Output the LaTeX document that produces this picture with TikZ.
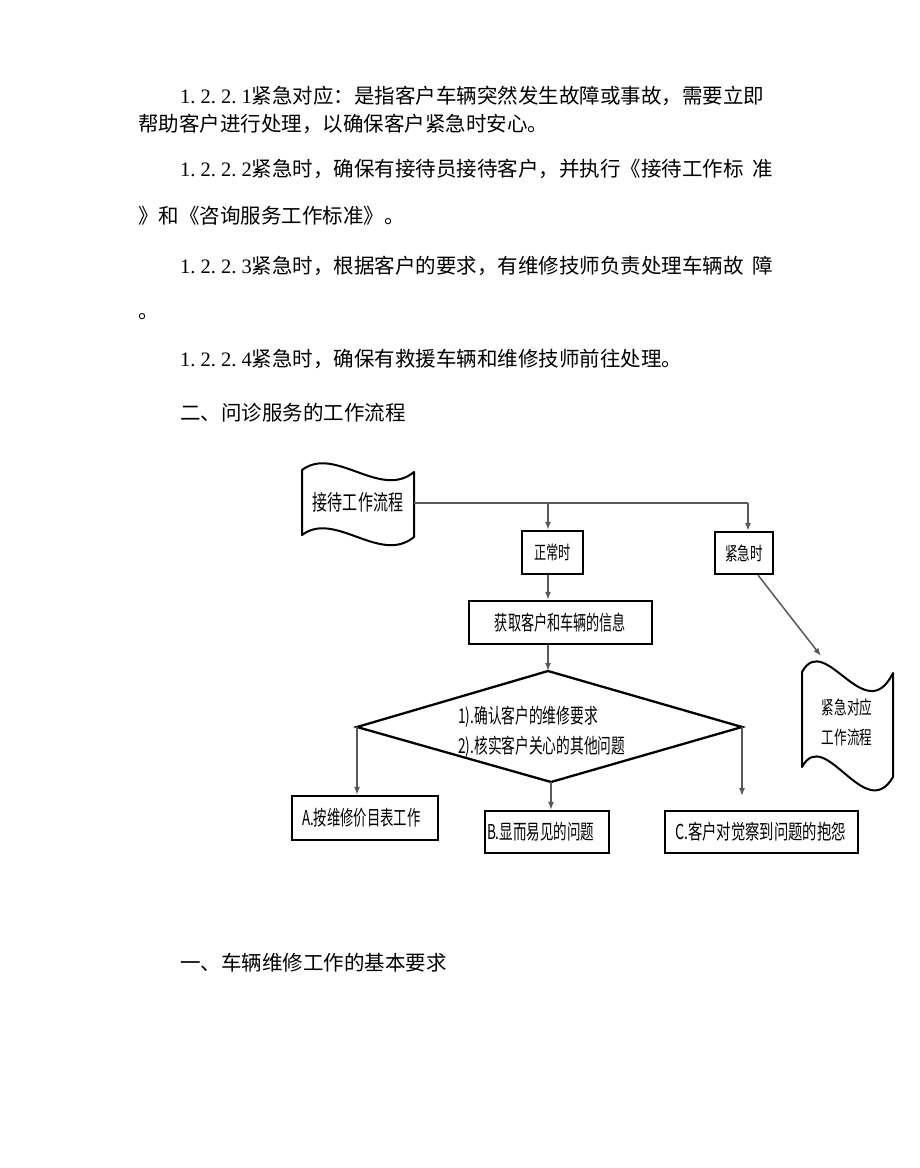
\documentclass[tikz,border=0pt]{standalone}
\usepackage{fontspec}
\setmainfont{Noto Sans CJK SC}
\newfontfamily\digfont{Liberation Serif}
\usetikzlibrary{arrows.meta,calc}
\newcommand\hwc[1]{\makebox[0.5em][c]{#1}}
\newcommand\hwl[1]{\makebox[0.5em][l]{#1}}
\newcommand\secno[4]{{\digfont\hwc{#1}\hwl{.}\hwc{#2}\hwl{.}\hwc{#3}\hwl{.}\hwc{#4}}}
\newcommand\dg[2][0.68]{\scalebox{#1}[1]{#2}}
\tikzset{
  body/.style={anchor=base west, inner sep=0pt, font=\fontsize{20.5}{24}\selectfont},
  box/.style={draw=black, line width=2.2pt, rectangle, inner sep=0pt, font=\fontsize{20.5}{24}\selectfont},
  lbl/.style={inner sep=0pt, font=\fontsize{20.5}{24}\selectfont},
  conn/.style={draw=black!65, line width=1.5pt},
  arr/.style={conn, -{Latex[length=8pt,width=6pt]}},
  docshape/.style={draw=black, line width=2pt, line join=round},
  dia/.style={draw=black, line width=2.3pt, line join=miter}
}
\begin{document}
\begin{tikzpicture}[x=1pt,y=-1pt]
\fill[white] (0,0) rectangle (920,1168);
\useasboundingbox (0,0) rectangle (920,1168);

% body text
\node[body] (p1) at (180,103) {\secno1221紧急对应：是指客户车辆突然发生故障或事故，需要立即};
\node[body] (p2) at (138,131.5) {帮助客户进行处理，以确保客户紧急时安心。};
\node[body] (p3) at (180,176) {\secno1222紧急时，确保有接待员接待客户，并执行《接待工作标\hspace{9pt}准};
\node[body] (p4) at (138,223) {》和《咨询服务工作标准》。};
\node[body] (p5) at (180,273) {\secno1223紧急时，根据客户的要求，有维修技师负责处理车辆故\hspace{9pt}障};
\node[body] (p6) at (138,318) {。};
\node[body] (p7) at (180,366) {\secno1224紧急时，确保有救援车辆和维修技师前往处理。};
\node[body] (h2) at (180,420) {二、问诊服务的工作流程};
\node[body] (h1) at (180,970) {一、车辆维修工作的基本要求};

% document shapes
\draw[docshape] (302,470) .. controls (335,445) and (380,500) .. (414,472) -- (414,537)
  .. controls (380,565) and (335,510) .. (302,535) -- cycle;
\node[lbl, font=\fontsize{21.5}{24}\selectfont] (d1) at (358,502) {\dg[0.70]{接待工作流程}};

\draw[docshape] (802,672) .. controls (825,630) and (865,730) .. (893,673) -- (893,777)
  .. controls (865,825) and (825,725) .. (802,767) -- cycle;
\node[lbl, align=center, font=\fontsize{18.5}{30}\selectfont] (d2) at (847,722) {\dg{紧急对应}\\\dg{工作流程}};

% boxes
\node[box, font=\fontsize{18.5}{22}\selectfont, minimum width=61pt, minimum height=43pt] (zc) at (552.5,552.5) {\dg[0.66]{正常时}};
\node[box, font=\fontsize{18.5}{22}\selectfont, minimum width=58pt, minimum height=42pt] (jj) at (744,553) {\dg[0.68]{紧急时}};
\node[box, minimum width=183pt, minimum height=43pt] (info) at (560.5,622.5) {\dg[0.64]{获取客户和车辆的信息}};
\node[box, minimum width=146pt, minimum height=44pt] (A) at (365,818) {\makebox[126pt][l]{\dg[0.65]{A.按维修价目表工作}}};
\node[box, minimum width=124pt, minimum height=42pt] (B) at (547,832) {\makebox[120pt][l]{\dg[0.66]{B.显而易见的问题}}};
\node[box, minimum width=193pt, minimum height=42pt] (C) at (761.5,832) {\makebox[173pt][l]{\dg[0.70]{C.客户对觉察到问题的抱怨}}};

% diamond
\coordinate (dt) at (548,671);
\coordinate (dr) at (742,727);
\coordinate (db) at (551,782);
\coordinate (dl) at (357,727);
\draw[dia] (dt) -- (dr) -- (db) -- (dl) -- cycle;
\node[lbl, anchor=west, align=left, font=\fontsize{20.5}{30}\selectfont] (dtext) at (458,732)
  {\dg[0.67]{1).确认客户的维修要求}\\\dg[0.67]{2).核实客户关心的其他问题}};

% connectors
\coordinate (d1out) at (414,503);
\coordinate (jn) at (548,503);
\coordinate (jr) at (748,503);
\coordinate (cend) at (742,796);
\coordinate (d2top) at (821,656);
\draw[conn] (d1out) -- (jr);
\draw[arr] (jn) -- (jn |- zc.north);
\draw[arr] (jr) -- (jr |- jj.north);
\draw[arr] (zc.south -| jn) -- (info.north -| jn);
\draw[arr] (info.south -| dt) -- (dt);
\draw[arr] (dl) -- (dl |- A.north);
\draw[arr] (db) -- (db |- B.north);
\draw[arr] (dr) -- (cend);
\draw[arr] ($(jj.south)+(14,0)$) -- (d2top);
\end{tikzpicture}
\end{document}
